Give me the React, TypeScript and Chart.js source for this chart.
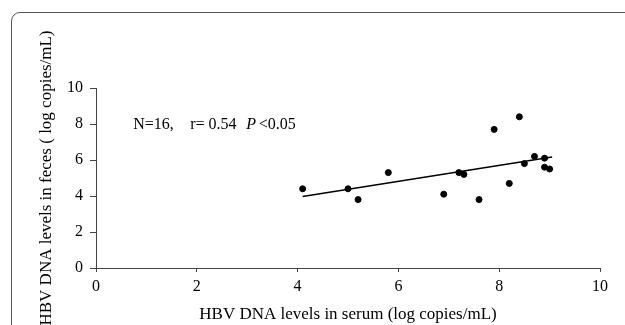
import React, { useEffect, useRef } from "react";
import { Chart, registerables } from "chart.js";

Chart.register(...registerables);

const serumLevels = [4.1, 5.0, 5.2, 5.8, 6.9, 7.2, 7.3, 7.6, 7.9, 8.2, 8.4, 8.5, 8.7, 8.9, 8.9, 9.0];
const fecesLevels = [4.4, 4.4, 3.8, 5.3, 4.1, 5.3, 5.2, 3.8, 7.7, 4.7, 8.4, 5.8, 6.2, 6.1, 5.6, 5.5];
const trendX = [4.1, 9.05];
const trendY = [3.97, 6.17];
const xTicks = [0, 2, 4, 6, 8, 10];
const yTicks = [0, 2, 4, 6, 8, 10];
const xTitle = "HBV DNA levels in serum (log copies/mL)";
const yTitle = "HBV DNA levels in feces ( log copies/mL)";
const annotationParts = [
  { text: "N=16,", italic: false, x: 0.74 },
  { text: "r= 0.54", italic: false, x: 1.87 },
  { text: "P", italic: true, x: 2.98 },
  { text: "<0.05", italic: false, x: 3.23 },
];
const annotationY = 7.7;

const FONT = "'Liberation Serif', 'Times New Roman', serif";

const annotationPlugin = {
  id: "annotationText",
  afterDatasetsDraw(chart: any) {
    const { ctx, scales } = chart;
    ctx.save();
    ctx.fillStyle = "#000";
    ctx.textBaseline = "alphabetic";
    ctx.textAlign = "left";
    const y = scales.y.getPixelForValue(annotationY);
    for (const p of annotationParts) {
      ctx.font = `${p.italic ? "italic " : ""}16px ${FONT}`;
      ctx.fillText(p.text, scales.x.getPixelForValue(p.x), y);
    }
    ctx.restore();
  },
};

export default function App() {
  const ref = useRef<HTMLCanvasElement>(null);
  useEffect(() => {
    if (!ref.current) return;
    const chart = new Chart(ref.current, {
      type: "scatter",
      data: {
        datasets: [
          {
            type: "scatter",
            data: serumLevels.map((x, i) => ({ x, y: fecesLevels[i] })),
            backgroundColor: "#000",
            borderColor: "#000",
            pointRadius: 3,
            pointHoverRadius: 3,
          },
          {
            type: "line",
            data: trendX.map((x, i) => ({ x, y: trendY[i] })),
            borderColor: "#000",
            borderWidth: 1.5,
            pointRadius: 0,
            fill: false,
          } as any,
        ],
      },
      options: {
        responsive: false,
        animation: false,
        events: [],
        layout: { padding: { left: 0, top: 88, right: 25, bottom: 0 } },
        plugins: { legend: { display: false }, tooltip: { enabled: false } },
        scales: {
          x: {
            type: "linear",
            min: 0,
            max: 10,
            afterBuildTicks: (s: any) => {
              s.ticks = xTicks.map((v) => ({ value: v }));
            },
            afterFit: (s: any) => {
              s.height = 57;
            },
            grid: { drawOnChartArea: false, drawTicks: true, tickLength: 4, color: "#444" },
            border: { color: "#444", width: 1 },
            ticks: { color: "#000", font: { family: FONT, size: 16 }, padding: 5, maxRotation: 0 },
            title: {
              display: true,
              text: xTitle,
              color: "#000",
              font: { family: FONT, size: 17 },
              padding: { top: 0, bottom: 0 },
            },
          },
          y: {
            type: "linear",
            min: 0,
            max: 10,
            afterBuildTicks: (s: any) => {
              s.ticks = yTicks.map((v) => ({ value: v }));
            },
            afterFit: (s: any) => {
              s.width = 96;
            },
            grid: { drawOnChartArea: false, drawTicks: true, tickLength: 6, color: "#444" },
            border: { color: "#444", width: 1 },
            ticks: { color: "#000", font: { family: FONT, size: 16 }, padding: 7 },
            title: {
              display: true,
              text: yTitle,
              color: "#000",
              font: { family: FONT, size: 17 },
              padding: { top: 36, bottom: 0 },
            },
          },
        },
      },
      plugins: [annotationPlugin],
    });
    return () => chart.destroy();
  }, []);

  return (
    <div
      style={{
        position: "absolute",
        left: 0,
        top: 0,
        width: 625,
        height: 325,
        overflow: "hidden",
        background: "#fff",
      }}
    >
      <div
        style={{
          position: "absolute",
          left: 11,
          top: 12,
          width: 700,
          height: 400,
          border: "1.5px solid #555",
          borderRadius: 9,
          boxSizing: "border-box",
        }}
      />
      <canvas ref={ref} width={625} height={325} style={{ position: "absolute", left: 0, top: 0 }} />
    </div>
  );
}
